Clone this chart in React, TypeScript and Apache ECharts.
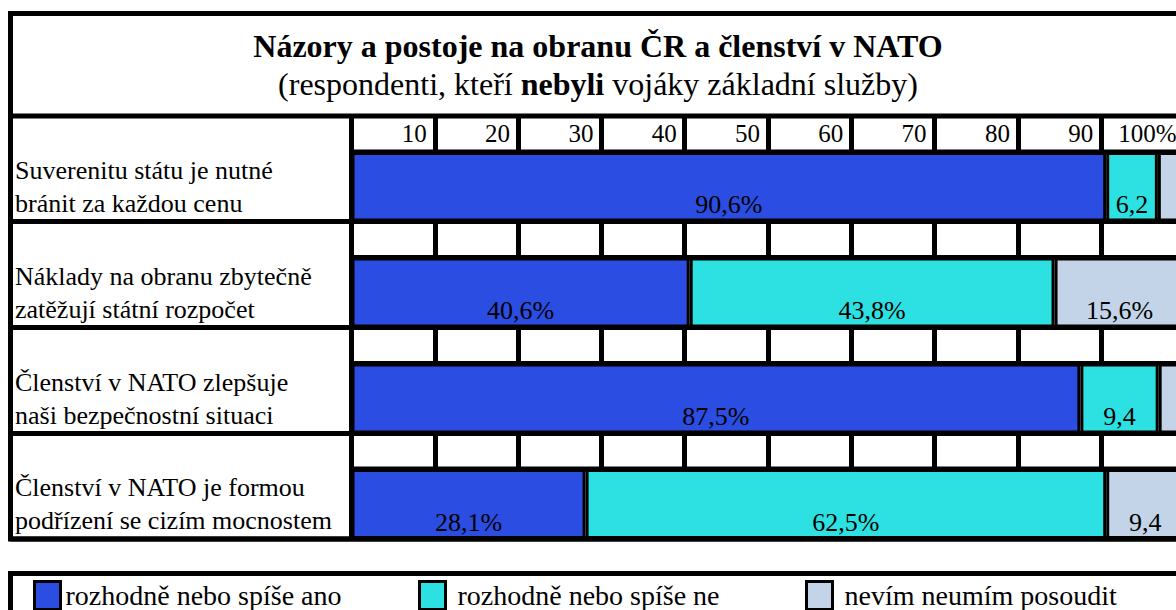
import React, { useEffect, useRef } from "react";
import * as echarts from "echarts";

// ---- data ----
const categories = [
  "Suverenitu státu je nutné\nbránit za každou cenu",
  "Náklady na obranu zbytečně\nzatěžují státní rozpočet",
  "Členství v NATO zlepšuje\nnaši bezpečnostní situaci",
  "Členství v NATO je formou\npodřízení se cizím mocnostem",
];
const seriesNames = [
  "rozhodně nebo spíše ano",
  "rozhodně nebo spíše ne",
  "nevím neumím posoudit",
];
const yesValues = [90.6, 40.6, 87.5, 28.1];
const noValues = [6.2, 43.8, 9.4, 62.5];
const dontKnowValues = [3.2, 15.6, 3.1, 9.4];
const titleText = "Názory a postoje na obranu ČR a členství v NATO";
const subtitleText = "(respondenti, kteří {b|nebyli} vojáky základní služby)";

// ---- styling / layout ----
const colors = ["#2B4DE1", "#2DE1E2", "#C3D3E8"];
const FONT = "'Liberation Serif', 'Times New Roman', serif";
const W = 1200;
const H = 610;
const LEFT = 351.5;
const RIGHT_X = 1184.5;
const TOP = 116;
const BOTTOM = 539;
const barTops = [152, 257.5, 363.5, 469];
const barBottoms = [221.5, 327.5, 433.5, 539];
const LW = 5;

const fmt = (v: number) => {
  const s = v.toFixed(1).replace(".", ",");
  return v >= 10 ? s + "%" : s;
};

export default function App() {
  const ref = useRef<HTMLDivElement>(null);
  useEffect(() => {
    document.documentElement.style.overflow = "hidden";
    document.body.style.overflow = "hidden";
    document.body.style.margin = "0";
    if (!ref.current) return;
    const chart = echarts.init(ref.current, undefined, { renderer: "svg" });
    const values = [yesValues, noValues, dontKnowValues];

    const grids: any[] = [
      { left: LEFT, right: W - RIGHT_X, top: TOP, bottom: H - BOTTOM },
    ];
    const xAxes: any[] = [
      {
        gridIndex: 0,
        type: "value",
        min: 0,
        max: 100,
        interval: 10,
        position: "top",
        axisLine: { show: false },
        axisTick: { show: false },
        splitLine: { show: true, lineStyle: { color: "#000", width: LW } },
        axisLabel: {
          inside: true,
          margin: 17,
          verticalAlign: "middle",
          align: "right",
          padding: [0, 8, 0, 0],
          fontSize: 25,
          color: "#000",
          fontFamily: FONT,
          showMinLabel: false,
          formatter: (v: number) => (v === 100 ? "100%" : String(v)),
        },
      },
    ];
    const yAxes: any[] = [{ gridIndex: 0, type: "value", show: false }];
    const series: any[] = [];

    categories.forEach((cat, i) => {
      const gi = i + 1;
      grids.push({
        left: LEFT,
        right: W - RIGHT_X,
        top: barTops[i],
        height: barBottoms[i] - barTops[i],
      });
      xAxes.push({ gridIndex: gi, type: "value", min: 0, max: 100, show: false });
      yAxes.push({
        gridIndex: gi,
        type: "category",
        data: [cat],
        axisLine: { show: false },
        axisTick: { show: false },
        splitLine: { show: false },
        axisLabel: {
          align: "left",
          margin: LEFT - 15,
          fontSize: 26,
          lineHeight: 33,
          color: "#000",
          fontFamily: FONT,
        },
      });
      seriesNames.forEach((name, s) => {
        const v = values[s][i];
        series.push({
          type: "bar",
          name,
          xAxisIndex: gi,
          yAxisIndex: gi,
          stack: "row" + i,
          barWidth: "100%",
          itemStyle: { color: colors[s], borderColor: "#000", borderWidth: 3 },
          label: {
            position: "insideBottom",
            distance: 4,
            fontSize: 26,
            color: "#000",
            fontFamily: FONT,
            formatter: (p: any) => fmt(p.value),
          },
          data: [{ value: v, label: { show: v >= 5 } }],
        });
      });
    });

    const lineStyle = { stroke: "#000", lineWidth: LW };
    const graphics: any[] = [
      {
        type: "rect",
        z: 100,
        shape: { x: 10.5, y: 13.5, width: 1300, height: BOTTOM - 13.5 },
        style: { fill: "none", ...lineStyle },
      },
      {
        type: "line",
        z: 100,
        shape: { x1: LEFT, y1: TOP, x2: LEFT, y2: BOTTOM },
        style: lineStyle,
      },
      {
        type: "rect",
        z: 100,
        shape: { x: 10.5, y: 573.5, width: 1300, height: 100 },
        style: { fill: "none", ...lineStyle },
      },
    ];
    [TOP, ...barBottoms].forEach((y) =>
      graphics.push({
        type: "line",
        z: 100,
        shape: { x1: 10, y1: y, x2: W, y2: y },
        style: lineStyle,
      })
    );
    barTops.forEach((y) =>
      graphics.push({
        type: "line",
        z: 100,
        shape: { x1: LEFT, y1: y, x2: W, y2: y },
        style: lineStyle,
      })
    );

    const legendLefts = [33, 418, 805];
    const legendPads = [0, 7, 7];

    chart.setOption({
      animation: false,
      backgroundColor: "#fff",
      title: [
        {
          text: titleText,
          left: 593,
          top: 25,
          textAlign: "center",
          textStyle: {
            fontFamily: FONT,
            fontWeight: "bold",
            fontSize: 32,
            color: "#000",
          },
        },
        {
          text: subtitleText,
          left: 593,
          top: 63,
          textAlign: "center",
          textStyle: {
            fontFamily: FONT,
            fontWeight: "normal",
            fontSize: 32,
            color: "#000",
            rich: {
              b: {
                fontFamily: FONT,
                fontWeight: "bold",
                fontSize: 32,
                color: "#000",
              },
            },
          },
        },
      ],
      grid: grids,
      xAxis: xAxes,
      yAxis: yAxes,
      series,
      legend: seriesNames.map((n, k) => ({
        data: [n],
        left: legendLefts[k],
        top: 580,
        padding: 0,
        itemWidth: 26,
        itemHeight: 28,
        icon: "rect",
        selectedMode: false,
        itemStyle: { borderColor: "#000", borderWidth: 3 },
        textStyle: {
          fontFamily: FONT,
          fontSize: 28,
          lineHeight: 28,
          color: "#000",
          padding: [0, 0, 0, legendPads[k]],
        },
      })),
      graphic: graphics,
    });
    return () => chart.dispose();
  }, []);
  return (
    <div
      ref={ref}
      style={{ position: "fixed", left: 0, top: 0, width: W, height: H }}
    />
  );
}
